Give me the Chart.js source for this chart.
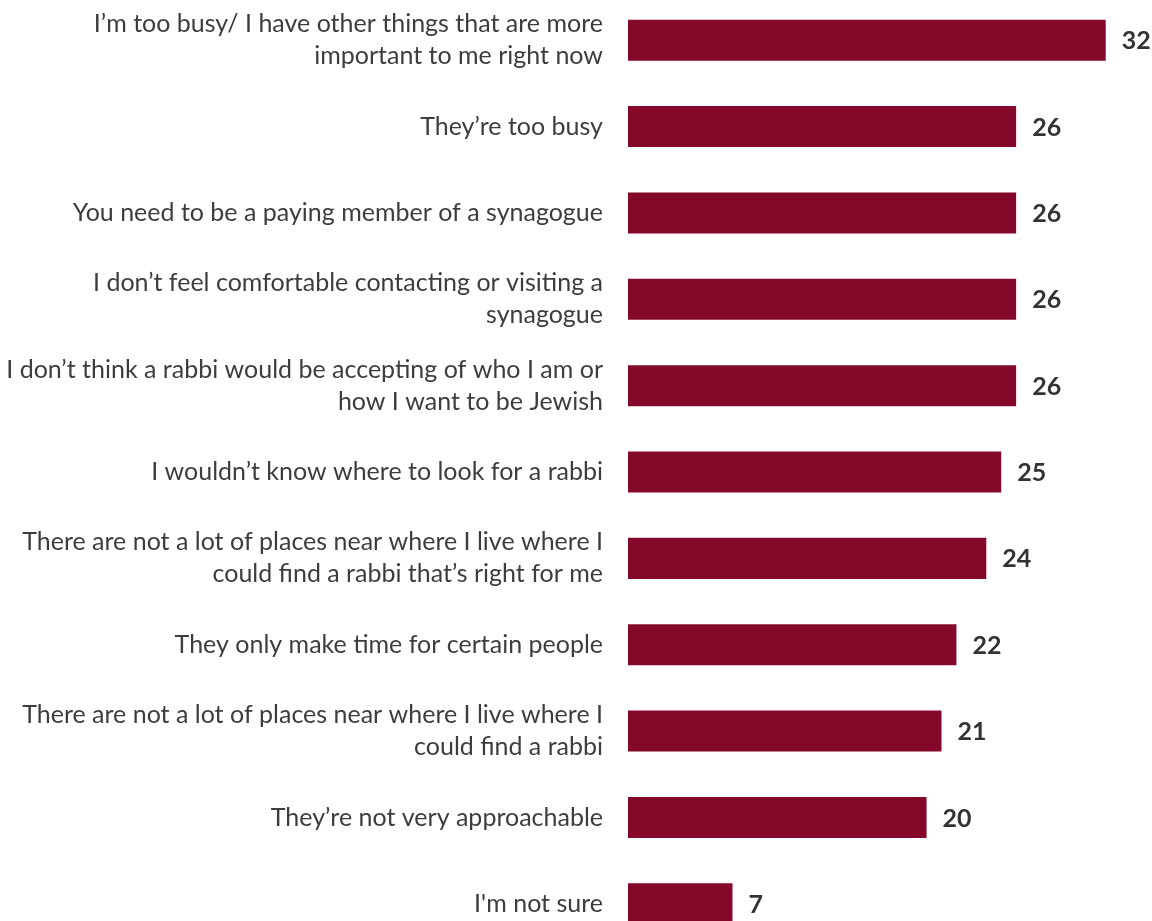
<!DOCTYPE html>
<html>
<head>
<meta charset="utf-8">
<script src="https://cdn.jsdelivr.net/npm/chart.js@4.4.0/dist/chart.umd.min.js"></script>
<style>
    html, body { margin: 0; padding: 0; background: #fff; overflow: hidden; }
    #wrap { position: absolute; left: 0; top: -3px; width: 1152px; height: 950px; }
</style>
</head>
<body>
<div id="wrap"><canvas id="barChart"></canvas></div>
<script>
// Reasons (wrapped the way the picture wraps them)
const categories = [
    ["I\u2019m too busy/ I have other things that are more", "important to me right now"],
    "They\u2019re too busy",
    "You need to be a paying member of a synagogue",
    ["I don\u2019t feel comfortable contacting or visiting a", "synagogue"],
    ["I don\u2019t think a rabbi would be accepting of who I am or", "how I want to be Jewish"],
    "I wouldn\u2019t know where to look for a rabbi",
    ["There are not a lot of places near where I live where I", "could find a rabbi that\u2019s right for me"],
    "They only make time for certain people",
    ["There are not a lot of places near where I live where I", "could find a rabbi"],
    "They\u2019re not very approachable",
    "I'm not sure"
];
const values = [32, 26, 26, 26, 26, 25, 24, 22, 21, 20, 7];

(function () {
    const barColor = "#84082A";
    const labelFont = "Lato, 'Open Sans', sans-serif";

    // Draws the bold number just past the end of each bar
    const valueLabels = {
        id: "valueLabels",
        afterDatasetsDraw(chart) {
            const ctx = chart.ctx;
            const meta = chart.getDatasetMeta(0);
            ctx.save();
            ctx.font = "bold 25px " + labelFont;
            ctx.fillStyle = "#333333";
            ctx.textAlign = "left";
            ctx.textBaseline = "middle";
            meta.data.forEach((bar, i) => {
                ctx.fillText(String(values[i]), bar.x + 16, bar.y + 1);
            });
            ctx.restore();
        }
    };

    new Chart(document.getElementById("barChart"), {
        type: "bar",
        data: {
            labels: categories,
            datasets: [{
                data: values,
                backgroundColor: barColor,
                borderWidth: 0,
                categoryPercentage: 1,
                barPercentage: 0.475
            }]
        },
        options: {
            indexAxis: "y",
            responsive: true,
            maintainAspectRatio: false,
            animation: false,
            layout: { padding: 0 },
            plugins: {
                legend: { display: false },
                tooltip: { enabled: false }
            },
            scales: {
                x: {
                    display: false,
                    min: 0,
                    max: 35.1
                },
                y: {
                    grid: { display: false },
                    border: { display: false },
                    ticks: {
                        padding: 17,
                        color: "#3d3d3d",
                        font: { family: labelFont, size: 25, lineHeight: 1.28 }
                    },
                    afterFit(scale) {
                        // fixed label column, and no extra room for the first/last label
                        scale.width = 628;
                        scale.paddingTop = 0;
                        scale.paddingBottom = 0;
                    }
                }
            }
        },
        plugins: [valueLabels]
    });
})();
</script>
</body>
</html>
